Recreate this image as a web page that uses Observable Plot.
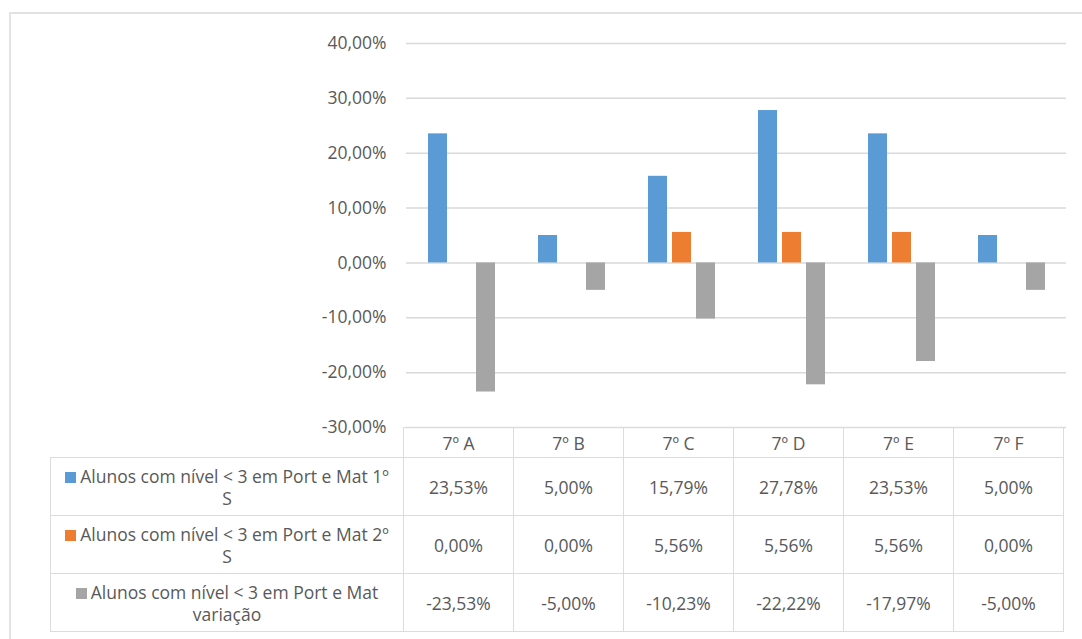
<!DOCTYPE html>
<html><head><meta charset="utf-8">
<script src="https://cdn.jsdelivr.net/npm/d3@7"></script>
<script src="https://cdn.jsdelivr.net/npm/@observablehq/plot@0.6"></script>
<style>
body{margin:0;background:#fff;font-family:"Open Sans",sans-serif;}
#wrap{position:relative;width:1082px;height:639px;overflow:hidden;background:#fff;}
#frame{position:absolute;left:9px;top:12px;width:1100px;height:700px;border-top:2px solid #e2e2e2;border-left:2px solid #e2e2e2;box-sizing:border-box;}
#chart{position:absolute;left:0;top:0;}
#tbl{position:absolute;top:427px;border-collapse:collapse;table-layout:fixed;color:#595959;font-size:17.5px;}
#tbl td{border:1.5px solid #dcdcdc;text-align:center;vertical-align:middle;padding:0;line-height:22px;}
#tbl td.blank{border-top:none;border-left:none;}
.mk{display:inline-block;width:11px;height:11px;margin-right:4px;vertical-align:0px;}
</style>
</head><body>
<div id="wrap"><div id="frame"></div><div id="chart"></div></div>
<script>
const categories = ["7º A","7º B","7º C","7º D","7º E","7º F"];
const seriesNames = [
  "Alunos com nível < 3 em Port e Mat 1º S",
  "Alunos com nível < 3 em Port e Mat 2º S",
  "Alunos com nível < 3 em Port e Mat variação"
];
const serie1 = [23.53, 5.00, 15.79, 27.78, 23.53, 5.00];
const serie2 = [0.00, 0.00, 5.56, 5.56, 5.56, 0.00];
const serie3 = [-23.53, -5.00, -10.23, -22.22, -17.97, -5.00];
const yTicks = [-30, -20, -10, 0, 10, 20, 30, 40];
const colors = ["#5B9BD5", "#ED7D31", "#A5A5A5"];

const allSeries = [serie1, serie2, serie3];
const data = categories.flatMap((c, i) => seriesNames.map((s, j) => ({cat: c, series: s, value: allSeries[j][i] / 100})));
const loc = d3.formatLocale({decimal: ",", thousands: ".", grouping: [3], currency: ["", "€"], minus: "-"});
const fmt = loc.format(".2%");

const chart = Plot.plot({
  width: 1082, height: 432,
  marginTop: 43, marginBottom: 5, marginLeft: 403, marginRight: 14,
  style: {fontFamily: '"Open Sans",sans-serif', fontSize: "17.5px", color: "#595959", background: "transparent", overflow: "visible"},
  fx: {domain: categories, padding: 0, axis: null},
  x: {domain: seriesNames, paddingInner: 0.2245, paddingOuter: 0.8776, axis: null},
  y: {domain: [-0.3, 0.4], ticks: yTicks.map(v => v / 100), tickFormat: fmt, tickSize: 0, tickPadding: 20, label: null},
  color: {domain: seriesNames, range: colors},
  marks: [
    Plot.gridY(yTicks.map(v => v / 100), {stroke: "#d9d9d9", strokeOpacity: 1, strokeWidth: 1.5}),
    Plot.barY(data, {fx: "cat", x: "series", y: "value", fill: "series"})
  ]
});
document.getElementById("chart").appendChild(chart);

// data table aligned to the fx band scale
const fx = chart.scale("fx");
const color = chart.scale("color");
const left0 = 50;
const firstW = fx.range[0] - left0;
const colW = fx.step;
const tbl = document.createElement("table");
tbl.id = "tbl";
tbl.style.left = left0 + "px";
tbl.style.width = (firstW + colW * categories.length) + "px";
let html = "<colgroup><col style='width:" + firstW + "px'>" + categories.map(() => "<col style='width:" + colW + "px'>").join("") + "</colgroup>";
html += "<tr style='height:30px'><td class='blank'></td>" + categories.map(c => "<td>" + c + "</td>").join("") + "</tr>";
seriesNames.forEach((s, j) => {
  const label = s.replace(/ (\S+)$/, "<br>$1");
  html += "<tr style='height:58px'><td><span class='mk' style='background:" + color.apply(s) + "'></span>" + label + "</td>" +
    allSeries[j].map(v => "<td>" + fmt(v / 100) + "</td>").join("") + "</tr>";
});
tbl.innerHTML = html;
document.getElementById("wrap").appendChild(tbl);
</script>
</body></html>
